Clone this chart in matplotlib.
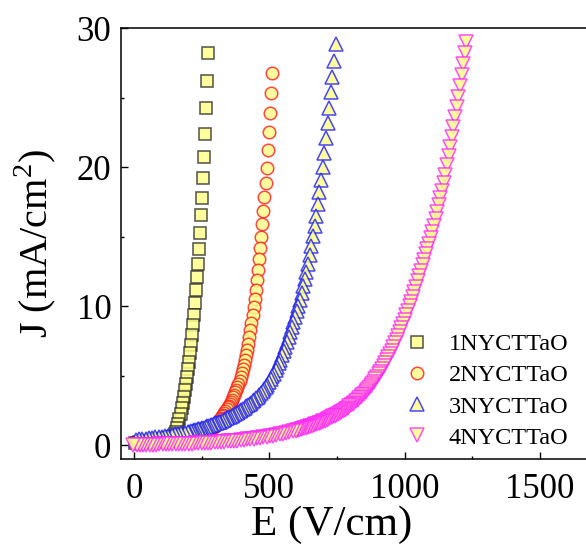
import matplotlib
matplotlib.use("Agg")
import matplotlib.pyplot as plt

plt.rcParams['font.family'] = ['Liberation Serif', 'DejaVu Serif']
plt.rcParams['mathtext.fontset'] = 'custom'
plt.rcParams['mathtext.rm'] = 'Liberation Serif'

labels = ['1NYCTTaO', '2NYCTTaO', '3NYCTTaO', '4NYCTTaO']

E1 = [274.5, 270.7, 266.9, 263.1, 259.3, 255.5, 251.7, 247.9, 244.1, 240.3, 236.5, 232.7, 228.9, 225.1,
      221.3, 217.5, 213.7, 209.9, 206.1, 202.3, 198.5, 194.7, 190.9, 187.1, 183.3, 179.5, 175.7, 171.9,
      168.1, 164.3, 160.5, 156.7, 152.9, 149.1, 145.3, 141.5, 137.7, 133.9, 130.1, 126.3, 122.5, 118.7,
      111.1, 103.5, 95.9, 88.3, 80.7, 73.1, 65.5, 57.9, 50.3, 42.7, 35.1, 27.5, 19.9, 12.3, 4.7]
J1 = [28.24, 26.23, 24.29, 22.39, 20.72, 19.25, 17.81, 16.54, 15.26, 14.09, 13.05, 12.10, 11.16, 10.2,
      9.36, 8.64, 7.92, 7.20, 6.60, 6.00, 5.45, 4.92, 4.39, 3.96, 3.48, 3.05, 2.64, 2.23,
      1.87, 1.51, 1.20, 0.96, 0.77, 0.65, 0.60, 0.57, 0.55, 0.53, 0.51, 0.49, 0.47, 0.46,
      0.43, 0.41, 0.39, 0.37, 0.35, 0.33, 0.31, 0.29, 0.27, 0.25, 0.23, 0.21, 0.19, 0.17, 0.15]

E2 = [510, 506, 502, 498, 494, 490, 486, 482, 478, 474, 470, 466, 462, 458, 454, 450, 446, 442, 438, 434,
      430, 426, 422, 418, 414, 410, 406, 402, 398, 394, 390, 386, 382, 378, 374, 370, 366, 362, 358, 354,
      350, 346, 342, 338, 334, 330, 326, 322, 318, 314, 310, 306, 302, 298, 294, 290, 286, 282, 278, 274,
      270, 266, 262, 258, 254, 250, 242, 234, 226, 218, 210, 202, 194, 186, 178, 170, 162, 154, 146, 138,
      130, 122, 114, 106, 98, 90, 82, 74, 66, 58, 50, 42, 34, 26, 18, 10, 2]
J2 = [26.8, 25.36, 23.92, 22.55, 21.25, 19.95, 18.89, 17.83, 16.84, 15.92, 15.0, 14.18, 13.36, 12.59, 11.87,
      11.15, 10.53, 9.91, 9.33, 8.79, 8.25, 7.77, 7.29, 6.86, 6.48, 6.1, 5.78, 5.46, 5.17, 4.91,
      4.65, 4.43, 4.21, 4.0, 3.8, 3.6, 3.44, 3.28, 3.13, 2.99, 2.85, 2.71, 2.57, 2.44, 2.31,
      2.18, 2.07, 1.96, 1.85, 1.75, 1.65, 1.57, 1.49, 1.41, 1.33, 1.25, 1.18, 1.11, 1.04, 0.99,
      0.93, 0.89, 0.84, 0.8, 0.77, 0.74, 0.69, 0.64, 0.6, 0.56, 0.53, 0.5, 0.48, 0.46, 0.44,
      0.42, 0.4, 0.38, 0.36, 0.35, 0.33, 0.32, 0.3, 0.29, 0.28, 0.27, 0.25, 0.24, 0.23, 0.22,
      0.2, 0.19, 0.18, 0.17, 0.16, 0.15, 0.14]

E3 = [745, 739, 733, 727, 721, 715, 709, 703, 697, 691, 685, 679, 673, 667, 661, 655, 649, 643, 637, 631,
      625, 619, 613, 607, 601, 595, 589, 583, 577, 571, 565, 559, 553, 547, 541, 535, 529, 523, 517, 511,
      505, 499, 493, 487, 481, 475, 469, 463, 457, 451, 445, 439, 433, 427, 421, 415, 409, 403, 397, 391,
      385, 379, 373, 367, 361, 355, 349, 343, 337, 331, 325, 319, 313, 307, 301, 295, 289, 283, 277, 271,
      265, 259, 253, 247, 241, 235, 229, 223, 217, 211, 205, 199, 187, 175, 163, 151, 139, 127, 115, 103,
      91, 79, 67, 55, 43, 31, 19, 7]
J3 = [28.87, 27.66, 26.52, 25.38, 24.24, 23.15, 22.08, 21.03, 20.04, 19.11, 18.23, 17.36, 16.52, 15.74, 15.02,
      14.33, 13.65, 13.05, 12.48, 11.94, 11.43, 10.93, 10.48, 10.04, 9.62, 9.23, 8.84, 8.48, 8.12, 7.76,
      7.4, 7.06, 6.75, 6.45, 6.15, 5.88, 5.61, 5.37, 5.15, 4.94, 4.73, 4.52, 4.36, 4.19, 4.03,
      3.89, 3.75, 3.62, 3.49, 3.37, 3.25, 3.14, 3.05, 2.96, 2.87, 2.78, 2.69, 2.6, 2.51, 2.44,
      2.36, 2.29, 2.23, 2.17, 2.11, 2.05, 1.99, 1.93, 1.87, 1.81, 1.75, 1.69, 1.65, 1.6, 1.56,
      1.51, 1.47, 1.42, 1.38, 1.34, 1.3, 1.26, 1.23, 1.19, 1.16, 1.13, 1.1, 1.07, 1.04, 1.0,
      0.97, 0.95, 0.9, 0.85, 0.81, 0.77, 0.73, 0.68, 0.64, 0.61, 0.58, 0.55, 0.52, 0.49, 0.47,
      0.44, 0.42, 0.4]

E4 = [1228, 1222, 1216, 1210, 1204, 1198, 1192, 1186, 1180, 1174, 1168, 1162, 1156, 1150, 1144, 1138, 1132,
      1126, 1120, 1114, 1108, 1102, 1096, 1090, 1084, 1078, 1072, 1066, 1060, 1054, 1048, 1042, 1036, 1030,
      1024, 1018, 1012, 1006, 1000, 994, 988, 982, 976, 970, 964, 958, 952, 946, 940, 934, 928, 922, 916,
      910, 904, 898, 892, 886, 880, 874, 868, 862, 856, 850, 844, 838, 832, 826, 820, 814, 808, 802, 796,
      790, 784, 778, 772, 766, 760, 754, 748, 742, 736, 730, 724, 718, 712, 706, 700, 694, 688, 682, 676,
      670, 664, 658, 652, 646, 640, 634, 628, 622, 616, 610, 604, 598, 586, 574, 562, 550, 538, 526, 514,
      502, 490, 478, 466, 454, 442, 430, 418, 406, 394, 382, 370, 358, 346, 334, 322, 310, 298, 286, 274,
      262, 250, 238, 226, 214, 202, 190, 178, 166, 154, 142, 130, 118, 106, 94, 82, 70, 58, 46, 34, 22, 10, -2]
J4 = [29.04, 28.22, 27.43, 26.65, 25.84, 25.05, 24.3, 23.59, 22.9, 22.18, 21.48, 20.82, 20.14, 19.45, 18.88,
      18.32, 17.78, 17.26, 16.75, 16.27, 15.8, 15.35, 14.89, 14.5, 14.11, 13.72, 13.33, 12.94, 12.55, 12.16,
      11.78, 11.4, 11.04, 10.68, 10.33, 9.99, 9.66, 9.34, 9.02, 8.72, 8.42, 8.14, 7.86, 7.58, 7.32,
      7.06, 6.8, 6.56, 6.32, 6.1, 5.89, 5.67, 5.47, 5.28, 5.09, 4.9, 4.74, 4.57, 4.4, 4.26,
      4.11, 3.97, 3.84, 3.71, 3.58, 3.46, 3.36, 3.25, 3.14, 3.05, 2.95, 2.86, 2.78, 2.7, 2.61,
      2.54, 2.46, 2.39, 2.32, 2.25, 2.19, 2.12, 2.06, 2.0, 1.94, 1.88, 1.83, 1.77, 1.72, 1.67,
      1.62, 1.58, 1.53, 1.49, 1.45, 1.41, 1.37, 1.33, 1.29, 1.25, 1.22, 1.18, 1.15, 1.12, 1.08,
      1.05, 0.99, 0.93, 0.88, 0.83, 0.78, 0.73, 0.69, 0.65, 0.61, 0.56, 0.53, 0.5, 0.47, 0.44,
      0.41, 0.38, 0.36, 0.33, 0.31, 0.28, 0.26, 0.25, 0.23, 0.21, 0.2, 0.18, 0.17, 0.15, 0.14,
      0.13, 0.12, 0.11, 0.1, 0.09, 0.09, 0.08, 0.07, 0.07, 0.06, 0.06, 0.05, 0.05, 0.04, 0.04,
      0.03, 0.03, 0.03, 0.02, 0.02, 0.02]

series = [(E1, J1), (E2, J2), (E3, J3), (E4, J4)]
markers = ['s', 'o', '^', 'v']
msizes = [8, 9, 10, 10.5]
edgecolors = [(0.15, 0.15, 0.15, 0.8), (1.0, 0.1, 0.1, 0.8), (0.1, 0.1, 1.0, 0.8), (1.0, 0.15, 1.0, 0.8)]
face = (1.0, 1.0, 0.55, 0.85)

fig = plt.figure(figsize=(5.86, 5.47), dpi=100)
ax = fig.add_axes([121/586, 88/547, 486.7/586, 430.7/547])

for (E, J), m, ms, ec, lab in zip(series, markers, msizes, edgecolors, labels):
    ax.plot(E, J, linestyle='none', marker=m, markersize=ms, markerfacecolor=face,
            markeredgecolor=ec, markeredgewidth=1.1, label=lab)

ax.set_xlim(-48, 1750)
ax.set_ylim(-1, 30)
ax.set_xticks([0, 500, 1000, 1500])
ax.set_xticks([250, 750, 1250], minor=True)
ax.set_yticks([0, 10, 20, 30])
ax.set_yticks([5, 15, 25], minor=True)
ax.tick_params(which='major', direction='in', length=5, width=1.0, labelsize=25)
ax.tick_params(axis='x', which='major', pad=10)
ax.tick_params(axis='y', which='major', pad=7)
ax.tick_params(which='minor', direction='in', length=2.5, width=1.0)
ax.tick_params(top=False, right=False)
for sp in ax.spines.values():
    sp.set_linewidth(1.1)

ax.set_xlabel('E (V/cm)', fontsize=31)
ax.xaxis.label.set_va('center')
ax.xaxis.set_label_coords((332 - 121) / 486.7, (459 - 525) / 430.7)
ax.set_ylabel('J (mA/cm$^{\\mathrm{2}}$)', fontsize=29)
ax.yaxis.set_label_coords((58 - 121) / 486.7, 0.5)

leg = ax.legend(loc='upper left', bbox_to_anchor=(405/586, 1 - 333/547), bbox_transform=fig.transFigure,
                frameon=False, fontsize=17.5, handlelength=1.0, handletextpad=0.8, labelspacing=0.38,
                borderpad=0, borderaxespad=0, numpoints=1)

fig.savefig('out.png', dpi=100)
